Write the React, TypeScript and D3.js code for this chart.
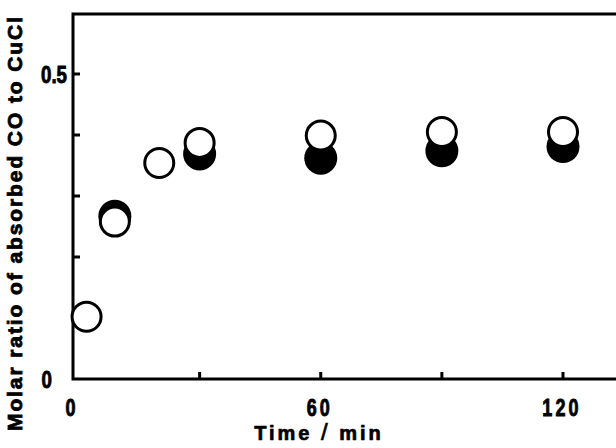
import { useEffect, useRef } from "react";
import * as d3 from "d3";

// time in minutes and molar ratio (absorbed CO / CuCl)
const timeOpen = [2, 9, 20, 30, 60, 90, 120];
const ratioOpen = [0.102, 0.258, 0.354, 0.387, 0.399, 0.405, 0.405];
const timeFilled = [9, 30, 60, 90, 120];
const ratioFilled = [0.267, 0.369, 0.362, 0.374, 0.381];

const xTickLabels = [0, 60, 120];
const xMinorTicks = [30, 60, 90, 120];
const yTickLabels = [0, 0.5];
const yMinorTicks = [0.1, 0.2, 0.3, 0.4, 0.5];

const FONT = "'Liberation Sans', Arial, sans-serif";

export default function App() {
  const ref = useRef<SVGSVGElement>(null);

  useEffect(() => {
    const width = 616;
    const height = 448;
    const svg = d3.select(ref.current);
    svg.selectAll("*").remove();
    svg.attr("width", width).attr("height", height);

    svg.append("rect").attr("width", width).attr("height", height).attr("fill", "#fff");

    const x = d3.scaleLinear().domain([0, 120]).range([78.5, 563]);
    const y = d3.scaleLinear().domain([0, 0.5]).range([379, 74]);

    const left = 73;
    const top = 14;
    const bottom = y(0);

    // frame (left, bottom, top)
    svg.append("path")
      .attr("d", `M${width + 5},${top} L${left},${top} L${left},${bottom} L${width + 5},${bottom}`)
      .attr("fill", "none")
      .attr("stroke", "#000")
      .attr("stroke-width", 3);

    // inward ticks
    svg.append("g").selectAll("line")
      .data(yMinorTicks)
      .join("line")
      .attr("x1", left)
      .attr("x2", left + 7)
      .attr("y1", d => y(d))
      .attr("y2", d => y(d))
      .attr("stroke", "#000")
      .attr("stroke-width", 3);

    svg.append("g").selectAll("line")
      .data(xMinorTicks)
      .join("line")
      .attr("x1", d => x(d))
      .attr("x2", d => x(d))
      .attr("y1", bottom)
      .attr("y2", bottom - 7)
      .attr("stroke", "#000")
      .attr("stroke-width", 3);

    // tick labels, condensed bold
    svg.append("g").selectAll("text")
      .data(yTickLabels)
      .join("text")
      .attr("transform", d => `translate(${d === 0 ? 52 : 67},${y(d) + 9}) scale(0.78,1)`)
      .attr("text-anchor", "end")
      .attr("font-family", FONT)
      .attr("font-weight", "bold")
      .attr("font-size", 24)
      .attr("stroke", "#000")
      .attr("stroke-width", 0.9)
      .text(d => (d === 0 ? "0" : "0.5"));

    svg.append("g").selectAll("text")
      .data(xTickLabels)
      .join("text")
      .attr("transform", d => `translate(${d === 0 ? 72 : x(d) - 1},416) scale(0.78,1)`)
      .attr("text-anchor", "middle")
      .attr("font-family", FONT)
      .attr("font-weight", "bold")
      .attr("font-size", 23)
      .attr("letter-spacing", 4)
      .attr("stroke", "#000")
      .attr("stroke-width", 0.9)
      .text(d => String(d));

    // axis titles
    const xt = svg.append("text")
      .attr("x", 319)
      .attr("y", 440)
      .attr("text-anchor", "middle")
      .attr("font-family", FONT)
      .attr("font-weight", "bold")
      .attr("font-size", 20)
      .attr("letter-spacing", 3)
      .attr("stroke", "#000")
      .attr("stroke-width", 0.7);
    xt.append("tspan").text("Time ");
    xt.append("tspan").attr("font-size", 24).attr("font-weight", "normal").text("/");
    xt.append("tspan").text(" min");

    svg.append("text")
      .attr("transform", "translate(22,224) rotate(-90)")
      .attr("text-anchor", "middle")
      .attr("font-family", FONT)
      .attr("font-weight", "bold")
      .attr("font-size", 21)
      .attr("stroke", "#000")
      .attr("stroke-width", 0.8)
      .attr("textLength", 414)
      .attr("lengthAdjust", "spacing")
      .text("Molar ratio of absorbed CO to CuCl");

    const filled = timeFilled.map((t, i) => ({ t, v: ratioFilled[i] }));
    const open = timeOpen.map((t, i) => ({ t, v: ratioOpen[i] }));

    svg.append("g").selectAll("circle")
      .data(filled)
      .join("circle")
      .attr("cx", d => x(d.t))
      .attr("cy", d => y(d.v))
      .attr("r", 16.5)
      .attr("fill", "#000");

    svg.append("g").selectAll("circle")
      .data(open)
      .join("circle")
      .attr("cx", d => x(d.t))
      .attr("cy", d => y(d.v))
      .attr("r", 14.5)
      .attr("fill", "#fff")
      .attr("stroke", "#000")
      .attr("stroke-width", 3);
  }, []);

  return (
    <div style={{ position: "fixed", left: 0, top: 0 }}>
      <svg ref={ref} style={{ display: "block" }} />
    </div>
  );
}
